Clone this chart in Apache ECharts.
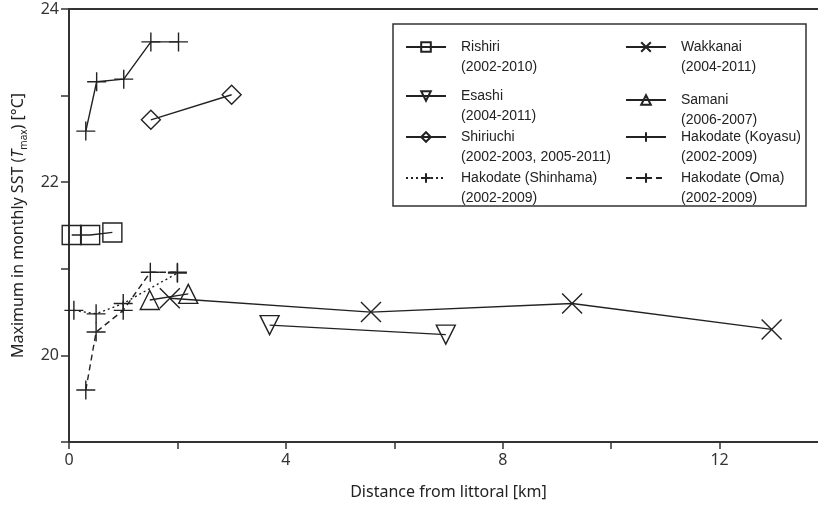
<!DOCTYPE html>
<html>
<head>
<meta charset="utf-8">
<script src="https://cdn.jsdelivr.net/npm/echarts@6/dist/echarts.min.js"></script>
<style>
html,body{margin:0;padding:0;background:#fff;}
#chart{width:818px;height:505px;}
</style>
</head>
<body>
<div id="chart"></div>
<script>
// ---- data (distance km, Tmax °C) ----
const rishiri   = [[0.05,21.39],[0.39,21.39],[0.80,21.42]];
const wakkanai  = [[1.86,20.66],[5.57,20.50],[9.28,20.60],[12.96,20.30]];
const esashi    = [[3.70,20.35],[6.95,20.24]];
const samani    = [[1.49,20.64],[2.20,20.71]];
const shiriuchi = [[1.51,22.72],[3.00,23.01]];
const koyasu    = [[0.31,22.59],[0.51,23.16],[1.01,23.19],[1.51,23.62],[2.02,23.62]];
const shinhama  = [[0.09,20.52],[0.50,20.48],[1.00,20.60],[2.00,20.95]];
const oma       = [[0.31,19.60],[0.50,20.27],[1.00,20.52],[1.50,20.96],[2.00,20.96]];

const names   = ['Rishiri','Wakkanai','Esashi','Samani','Shiriuchi','Hakodate (Koyasu)','Hakodate (Shinhama)','Hakodate (Oma)'];
const periods = ['(2002-2010)','(2004-2011)','(2004-2011)','(2006-2007)','(2002-2003, 2005-2011)','(2002-2009)','(2002-2009)','(2002-2009)'];
const xLabels = [0,4,8,12];
const yLabels = [20,22,24];

const INK = '#222';
const FONT = 'Noto Sans';
const PLUS = 'path://M0,5L10,5M5,0L5,10';
const CROSS = 'path://M0,0L10,10M10,0L0,10';
const DOWNTRI = 'path://M0,0L10,0L5,9Z';

function mk(name, data, symbol, size, dash) {
  return {
    name: name, type: 'line', data: data,
    symbol: symbol, symbolSize: size, showSymbol: true,
    color: INK,
    lineStyle: {color: INK, width: 1.4, type: dash || 'solid'},
    itemStyle: {color: 'transparent', borderColor: INK, borderWidth: 1.4},
    emphasis: {disabled: true},
    animation: false, z: 3
  };
}

const series = [
  mk(names[0], rishiri, 'rect', 19),
  mk(names[1], wakkanai, CROSS, 20),
  mk(names[2], esashi, DOWNTRI, 19),
  mk(names[3], samani, 'triangle', 19),
  mk(names[4], shiriuchi, 'diamond', 19),
  mk(names[5], koyasu, PLUS, 19),
  mk(names[6], shinhama, PLUS, 19, [2,3]),
  mk(names[7], oma, PLUS, 19, [6,4])
];

// first-line y of each legend entry
const legendPos = [[405,47],[625,47],[405,96],[625,100],[405,137],[625,137],[405,178],[625,178]];
const legends = names.map(function(n, i){
  return {
    data: [n], left: legendPos[i][0], top: legendPos[i][1] - 30, padding: 0,
    itemWidth: 40, itemHeight: 12, itemGap: 0, selectedMode: false,
    formatter: function(){ return '\n' + n + '\n' + periods[i]; },
    textStyle: {fontFamily: 'Liberation Sans', fontSize: 14, color: INK, lineHeight: 20, padding: [0,0,0,10]}
  };
});

const chart = echarts.init(document.getElementById('chart'), null, {renderer: 'canvas'});
chart.setOption({
  backgroundColor: '#fff',
  animation: false,
  grid: {left: 69, width: 759, top: 9, height: 433, outerBoundsMode: 'none', containLabel: false,
         show: true, borderColor: '#333', borderWidth: 2, backgroundColor: 'transparent'},
  legend: legends,
  graphic: [{
    type: 'rect', shape: {x: 393, y: 24, width: 413, height: 182},
    style: {fill: 'transparent', stroke: '#333', lineWidth: 1.5}, z: 10, silent: true
  }],
  xAxis: {
    type: 'value', min: 0, max: 14, interval: 2,
    name: 'Distance from littoral [km]', nameLocation: 'middle', nameGap: 42,
    nameTextStyle: {fontFamily: FONT, fontSize: 16, color: INK},
    axisLine: {show: true, lineStyle: {color: '#333', width: 2}},
    axisTick: {show: true, inside: false, length: 7, lineStyle: {color: '#333', width: 1.5}},
    axisLabel: {fontFamily: FONT, fontSize: 16, color: '#333', margin: 10,
      formatter: function(v){ return xLabels.indexOf(v) >= 0 ? String(v) : ''; }},
    splitLine: {show: false}
  },
  yAxis: {
    type: 'value', min: 19, max: 24, interval: 1,
    name: 'Maximum in monthly SST ({i|T}{s|max}) [°C]', nameLocation: 'middle', nameGap: 40, nameRotate: 90,
    nameTextStyle: {fontFamily: FONT, fontSize: 16, color: INK, lineHeight: 22,
      rich: {
        i: {fontFamily: FONT, fontSize: 16, fontStyle: 'italic', color: INK, lineHeight: 22},
        s: {fontFamily: FONT, fontSize: 10, color: INK, lineHeight: 22, verticalAlign: 'bottom', padding: [7,0,0,0]}
      }},
    axisLine: {show: true, lineStyle: {color: '#333', width: 2}},
    axisTick: {show: true, inside: false, length: 8, lineStyle: {color: '#333', width: 1.5}},
    axisLabel: {fontFamily: FONT, fontSize: 16, color: '#333', margin: 10,
      formatter: function(v){ return yLabels.indexOf(v) >= 0 ? String(v) : ''; }},
    splitLine: {show: false}
  },
  series: series
});
</script>
</body>
</html>
